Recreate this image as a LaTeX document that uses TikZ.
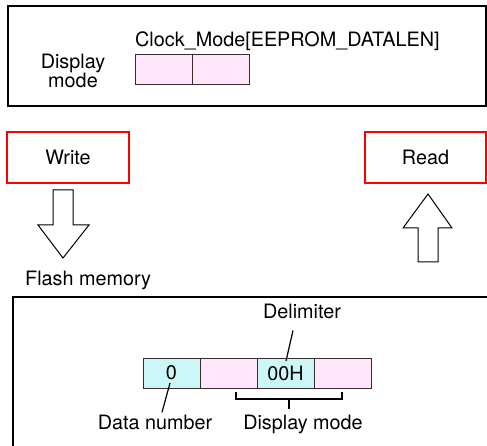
\documentclass[tikz,border=0pt]{standalone}
\usepackage{fontspec}
\setmainfont{TeX Gyre Heros}
\usetikzlibrary{positioning}
\definecolor{Rim}{HTML}{3B2B2B}
\definecolor{Blush}{HTML}{FFE6FA}
\definecolor{Aqua}{HTML}{CCF7F7}
\newcommand{\txt}{\fontsize{19.8}{17}\selectfont}
\tikzset{
 panel/.style={draw=black,line width=2pt,anchor=north west,inner sep=0pt,outer sep=0pt},
 cellbox/.style={draw=Rim,line width=1pt,minimum width=57pt,minimum height=30pt,
   inner sep=0pt,outer sep=0pt,anchor=north west,font=\txt},
 pinkcell/.style={cellbox,fill=Blush},
 aquacell/.style={cellbox,fill=Aqua},
 tag/.style={draw=red,line width=2pt,minimum height=51pt,font=\txt},
 lbl/.style={font=\txt,inner sep=0pt,align=center},
 hollow/.style={draw=black,line width=1pt,fill=white,line join=miter},
 lead/.style={draw=black,line width=1.2pt}
}
\begin{document}
\begin{tikzpicture}[x=1pt,y=-1pt]
\useasboundingbox (0,0) rectangle (487,446);
\clip (0,0) rectangle (487,446);
% upper panel: the variable in RAM
\node[panel,minimum width=478pt,minimum height=100pt] (ram) at (8,6) {};
\node[lbl] (dmode) at (73,71) {Display\\mode};
\node[lbl,anchor=base west] (var) at (135,47) {Clock\_Mode[EEPROM\_DATALEN]};
\node[pinkcell] (m1) at (135,55) {};
\node[pinkcell,right=0pt of m1] (m2) {};
% write / read
\node[tag,minimum width=122pt] (write) at (68,157.5) {Write};
\node[tag,minimum width=121pt] (read) at (425.5,157.5) {Read};
\draw[hollow] (53,190) -- (73,190) -- (73,225) -- (89,225) -- (63,258)
  -- (38,225) -- (53,225) -- cycle;
\draw[hollow] (418,262) -- (438,262) -- (438,228) -- (452,228) -- (428,194)
  -- (403,228) -- (418,228) -- cycle;
\node[lbl,anchor=base west] (flash) at (25,285) {Flash memory};
% lower panel: the flash record
\node[panel,minimum width=480pt,minimum height=170pt] (rom) at (13,297) {};
\node[aquacell] (d1) at (143,358) {0};
\node[pinkcell,right=0pt of d1] (d2) {};
\node[aquacell,right=0pt of d2] (d3) {00H};
\node[pinkcell,right=0pt of d3] (d4) {};
\node[lbl,anchor=base] (delim) at (302,318) {Delimiter};
\node[lbl,anchor=base] (dnum) at (155,429) {Data number};
\node[lbl,anchor=base] (dmode2) at (303,429) {Display mode};
\draw[lead] ([xshift=-9pt,yshift=-12pt]delim.south) -- ([xshift=0.5pt,yshift=-3pt]d3.north);
\draw[lead] ([xshift=-1.5pt,yshift=5pt]d1.south) -- ([xshift=7pt,yshift=2pt]dnum.north);
\draw[lead] (236,392) -- (236,399) -- (342,399) -- (342,392);
\draw[lead] (289,399) -- (289,409);
\end{tikzpicture}
\end{document}
